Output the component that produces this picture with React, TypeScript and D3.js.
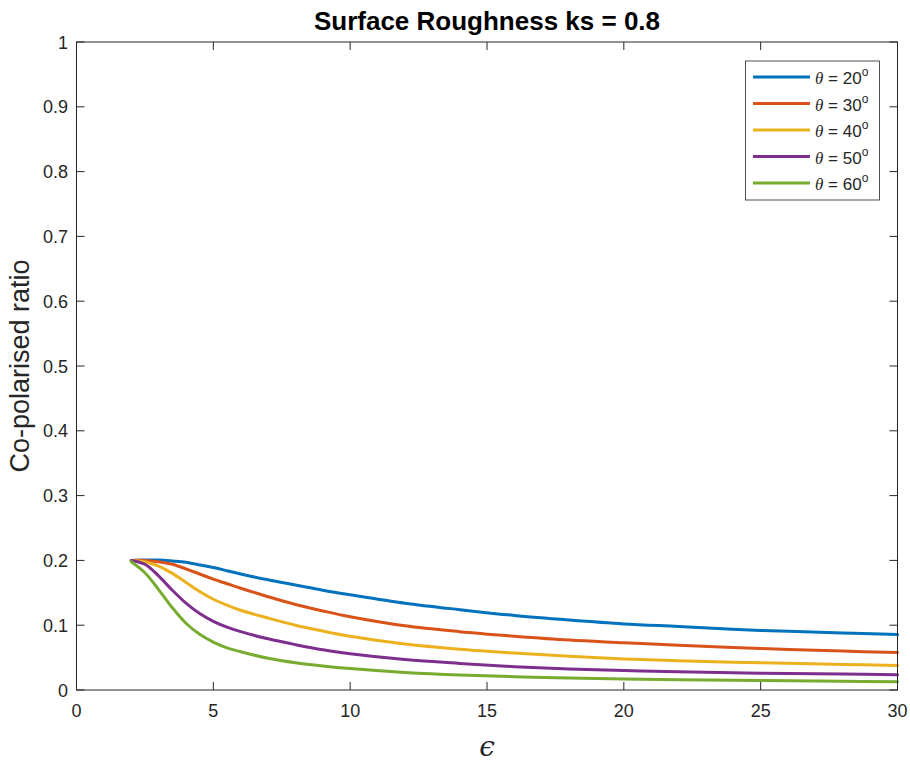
import React from "react";
import * as d3 from "d3";

const eps = [2, 2.5, 3, 3.5, 4, 4.5, 5, 5.5, 6, 7, 8, 9, 10, 12, 14, 16, 18, 20, 22, 25, 28, 30];
const theta20 = [0.2, 0.2005, 0.2005, 0.199, 0.197, 0.193, 0.189, 0.184, 0.179, 0.17, 0.162, 0.154, 0.147, 0.134, 0.124, 0.115, 0.108, 0.102, 0.098, 0.092, 0.088, 0.0855];
const theta30 = [0.2, 0.2, 0.198, 0.194, 0.187, 0.179, 0.171, 0.164, 0.157, 0.144, 0.132, 0.122, 0.113, 0.099, 0.09, 0.083, 0.077, 0.073, 0.069, 0.064, 0.06, 0.058];
const theta40 = [0.2, 0.198, 0.191, 0.18, 0.166, 0.152, 0.14, 0.131, 0.123, 0.111, 0.1, 0.091, 0.083, 0.071, 0.063, 0.057, 0.052, 0.048, 0.045, 0.042, 0.0395, 0.038];
const theta50 = [0.2, 0.194, 0.176, 0.154, 0.134, 0.118, 0.106, 0.097, 0.09, 0.079, 0.07, 0.062, 0.056, 0.047, 0.041, 0.036, 0.0325, 0.03, 0.028, 0.026, 0.0245, 0.0237];
const theta60 = [0.198, 0.181, 0.155, 0.127, 0.103, 0.086, 0.074, 0.065, 0.059, 0.049, 0.042, 0.037, 0.033, 0.027, 0.023, 0.0205, 0.0185, 0.017, 0.0158, 0.0146, 0.0135, 0.0128];

const seriesLabels = ["20", "30", "40", "50", "60"];
const seriesValues = [theta20, theta30, theta40, theta50, theta60];
const colors = ["#0072BD", "#D95319", "#EDB120", "#7E2F8E", "#77AC30"];
const xTicks = [0, 5, 10, 15, 20, 25, 30];
const yTicks = [0, 0.1, 0.2, 0.3, 0.4, 0.5, 0.6, 0.7, 0.8, 0.9, 1];

const W = 910, H = 764;
const L = 76.5, R = 897.5, T = 42, B = 690;
const FONT = "'Liberation Sans', Arial, Helvetica, sans-serif";
const AX = "#262626";

export default function App() {
  const x = d3.scaleLinear().domain([0, 30]).range([L, R]);
  const y = d3.scaleLinear().domain([0, 1]).range([B, T]);
  const line = d3
    .line<number>()
    .x((_, i) => x(eps[i]))
    .y((d) => y(d))
    .curve(d3.curveCatmullRom.alpha(0.5));
  const tl = 8;
  const legX = 745.5, legY = 61, legW = 134, legH = 139;
  return (
    <svg width={W} height={H} style={{ position: "absolute", left: 0, top: 0, background: "#fff" }}>
      <rect x={0} y={0} width={W} height={H} fill="#fff" />
      {xTicks.map((t) => (
        <g key={"x" + t}>
          <line x1={x(t)} x2={x(t)} y1={B} y2={B - tl} stroke={AX} strokeWidth={1} />
          <line x1={x(t)} x2={x(t)} y1={T} y2={T + tl} stroke={AX} strokeWidth={1} />
          <text x={x(t)} y={717} textAnchor="middle" fontFamily={FONT} fontSize={18} fill={AX}>
            {t}
          </text>
        </g>
      ))}
      {yTicks.map((t) => (
        <g key={"y" + t}>
          <line x1={L} x2={L + tl} y1={y(t)} y2={y(t)} stroke={AX} strokeWidth={1} />
          <line x1={R} x2={R - tl} y1={y(t)} y2={y(t)} stroke={AX} strokeWidth={1} />
          <text x={68} y={y(t) + 6.5} textAnchor="end" fontFamily={FONT} fontSize={18} fill={AX}>
            {String(t)}
          </text>
        </g>
      ))}
      {seriesValues.map((vals, i) => (
        <path key={i} d={line(vals) || ""} fill="none" stroke={colors[i]} strokeWidth={3} strokeLinejoin="round" strokeLinecap="round" />
      ))}
      <rect x={L} y={T} width={R - L} height={B - T} fill="none" stroke={AX} strokeWidth={1} />
      <text x={(L + R) / 2} y={30} textAnchor="middle" fontFamily={FONT} fontWeight="bold" fontSize={26} fill="#000">
        Surface Roughness ks = 0.8
      </text>
      <text x={(L + R) / 2} y={756} textAnchor="middle" fontFamily="'DejaVu Serif', 'Liberation Serif', serif" fontStyle="italic" fontSize={28} fill={AX}>
        ϵ
      </text>
      <text
        transform={`translate(29, ${(T + B) / 2}) rotate(-90)`}
        textAnchor="middle"
        fontFamily={FONT}
        fontSize={27}
        fill={AX}
      >
        Co-polarised ratio
      </text>
      <rect x={legX} y={legY} width={legW} height={legH} fill="#fff" stroke={AX} strokeWidth={0.8} />
      {seriesLabels.map((s, i) => {
        const ry = 77 + i * 26.5;
        return (
          <g key={"l" + i}>
            <line x1={753} x2={810} y1={ry} y2={ry} stroke={colors[i]} strokeWidth={3} />
            <text x={815} y={ry + 7} fontFamily={FONT} fontSize={17} fill={AX}>
              <tspan fontFamily="'Liberation Serif', 'DejaVu Serif', serif" fontStyle="italic">θ</tspan>
              <tspan> = {s}</tspan>
              <tspan fontSize={12} dy={-8}>o</tspan>
            </text>
          </g>
        );
      })}
    </svg>
  );
}
